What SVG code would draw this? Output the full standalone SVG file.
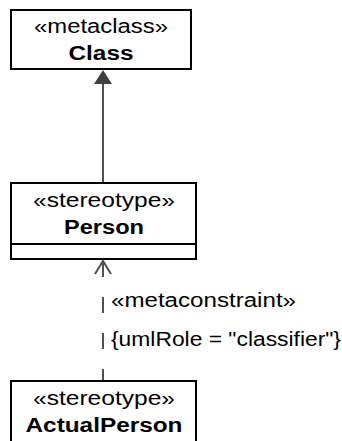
<svg xmlns="http://www.w3.org/2000/svg" width="342" height="441" viewBox="0 0 342 441">
<style>
.box{fill:#fff;stroke:#000;stroke-width:2}
.t{font-family:"Liberation Sans",Arial,sans-serif;font-size:20px;fill:#000;text-anchor:middle}
.b{font-weight:bold}
.lbl{font-family:"Liberation Sans",Arial,sans-serif;font-size:20px;fill:#000}
.conn{stroke:#505050;stroke-width:2;fill:none}
</style>
<rect width="342" height="441" fill="#fff"/>
<g id="connectors">
  <line class="conn" x1="103" y1="84" x2="103" y2="183"/>
  <polygon points="103,70 94,84 112,84" fill="#404040"/>
  <line class="conn" x1="103" y1="261" x2="103" y2="381" stroke-dasharray="16,20"/>
  <polyline class="conn" points="95,274 103,261 111,274"/>
  <text class="lbl" x="111" y="307" textLength="185" lengthAdjust="spacingAndGlyphs">«metaconstraint»</text>
  <text class="lbl" x="111" y="346" textLength="230" lengthAdjust="spacingAndGlyphs">{umlRole = "classifier"}</text>
</g>
<g id="Class">
  <rect class="box" x="11" y="10" width="180" height="59"/>
  <text class="t" x="101" y="33" textLength="134" lengthAdjust="spacingAndGlyphs">«metaclass»</text>
  <text class="t b" x="101" y="60" textLength="65" lengthAdjust="spacingAndGlyphs">Class</text>
</g>
<g id="Person">
  <rect class="box" x="11" y="183" width="185" height="76"/>
  <line x1="11" y1="244" x2="196" y2="244" stroke="#000" stroke-width="2"/>
  <text class="t" x="104" y="207" textLength="142" lengthAdjust="spacingAndGlyphs">«stereotype»</text>
  <text class="t b" x="104" y="234" textLength="80" lengthAdjust="spacingAndGlyphs">Person</text>
</g>
<g id="ActualPerson">
  <rect class="box" x="11" y="381" width="185" height="70"/>
  <text class="t" x="104" y="405" textLength="142" lengthAdjust="spacingAndGlyphs">«stereotype»</text>
  <text class="t b" x="104" y="432" textLength="157" lengthAdjust="spacingAndGlyphs">ActualPerson</text>
</g>
</svg>
